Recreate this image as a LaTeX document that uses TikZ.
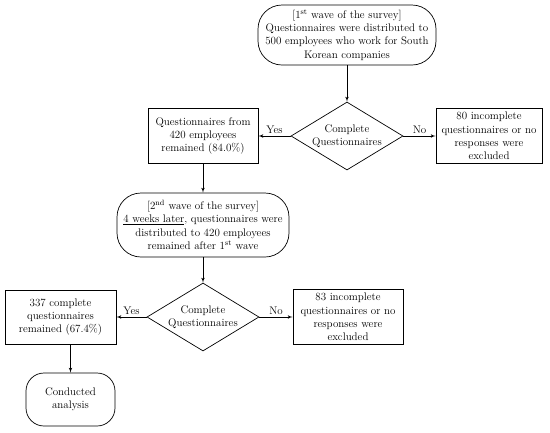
\documentclass[tikz,border=0pt]{standalone}
\usepackage{amsmath}
\usepackage{tikz}
\usetikzlibrary{positioning}
\usetikzlibrary{shapes,backgrounds,arrows}
\tikzstyle{line} = [draw, line width=0.7pt, -latex']
\tikzstyle{block} = [draw, line width=0.7pt, rectangle, align=center, inner sep=1pt,
	font=\fontsize{11}{13.3}\selectfont]
\tikzstyle{wave} = [block, rounded corners=24pt]
\tikzstyle{decision} = [draw, line width=0.7pt, diamond, align=center, inner sep=0pt,
	shape aspect=1.65, minimum width=112pt, minimum height=68pt,
	font=\fontsize{11}{13.3}\selectfont]
\tikzstyle{tag} = [font=\fontsize{11}{13.3}\selectfont, above, inner sep=2pt]

\begin{document}
\begin{tikzpicture}[x=1pt, y=-1pt]
	\useasboundingbox (0, 0) rectangle (550, 432);
	
	% first wave
	\node[wave, minimum width=178pt, minimum height=60pt] (wave1) at (347, 35)
		{[1\textsuperscript{st} wave of the survey]\\Questionnaires were distributed to\\500 employees who work for South\\Korean companies};
	\node[decision] (check1) at (347, 136) {Complete\\Questionnaires};
	\node[block, minimum width=110pt, minimum height=55pt] (yes1) at (203, 136)
		{Questionnaires from\\420 employees\\remained (84.0\%)};
	\node[block, minimum width=106pt, minimum height=55pt] (no1) at (489, 136)
		{80 incomplete\\questionnaires or no\\responses were\\excluded};
	
	% second wave
	\node[wave, minimum width=172pt, minimum height=64pt] (wave2) at (203, 225)
		{[2\textsuperscript{nd} wave of the survey]\\\underline{4 weeks later}, questionnaires were\\distributed to 420 employees\\remained after 1\textsuperscript{st} wave};
	\node[decision] (check2) at (203, 317) {Complete\\Questionnaires};
	\node[block, minimum width=111pt, minimum height=54pt] (yes2) at (60.5, 317)
		{337 complete\\questionnaires\\remained (67.4\%)};
	\node[block, minimum width=110pt, minimum height=55pt] (no2) at (348, 317)
		{83 incomplete\\questionnaires or no\\responses were\\excluded};
	\node[block, rounded corners=18pt, minimum width=89pt, minimum height=53pt] (result) at (70.5, 399.5)
		{Conducted\\analysis};
	
	\path[line] (wave1) -- (check1);
	\path[line] (check1) -- node[tag] {Yes} (yes1);
	\path[line] (check1) -- node[tag] {No} (no1);
	\path[line] (yes1) -- (wave2);
	\path[line] (wave2) -- (check2);
	\path[line] (check2) -- node[tag] {Yes} (yes2);
	\path[line] (check2) -- node[tag] {No} (no2);
	\path[line] (yes2.south -| result.north) -- (result.north);
\end{tikzpicture}
\end{document}
